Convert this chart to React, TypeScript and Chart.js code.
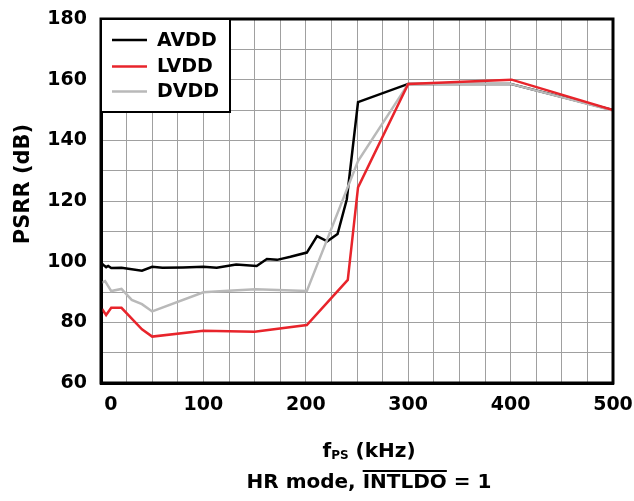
import React, { useEffect, useRef } from 'react';
import { Chart, registerables } from 'chart.js';

Chart.register(...registerables);

// ---- data ----
const avddKHz = [1, 3, 5, 7, 10, 20, 40, 50, 60, 80, 100, 113, 132, 152, 162, 172, 185, 201, 211, 221, 231, 240, 251, 300, 400, 500];
const avddDB = [99.3, 98.7, 98.2, 98.6, 97.9, 98.0, 97.0, 98.3, 98.0, 98.1, 98.3, 98.0, 99.1, 98.6, 100.9, 100.6, 101.6, 103.0, 108.4, 106.7, 109.1, 120.5, 152.6, 158.6, 158.6, 150.0];

const lvddKHz = [1, 5, 10, 20, 40, 50, 100, 150, 201, 241, 251, 300, 401, 500];
const lvddDB = [84.4, 82.4, 84.8, 84.8, 77.7, 75.3, 77.2, 76.9, 79.1, 94.0, 124.5, 158.6, 160.0, 150.0];

const dvddKHz = [1, 4, 10, 20, 30, 40, 50, 100, 120, 151, 201, 251, 300, 400, 500];
const dvddDB = [93.1, 93.6, 90.3, 91.0, 87.4, 86.0, 83.6, 89.9, 90.3, 90.9, 90.3, 133.2, 158.6, 158.6, 149.8];

const seriesNames = ['AVDD', 'LVDD', 'DVDD'];
const seriesColors = ['#000000', '#e8242b', '#b9b9b9'];

const xMin = 0;
const xMax = 500;
const xStep = 25;
const xLabelEvery = 100;
const yMin = 60;
const yMax = 180;
const yStep = 10;
const yLabelEvery = 20;

const FONT = '"DejaVu Sans", "Liberation Sans", Arial, sans-serif';

const toPoints = (xs: number[], ys: number[]) => xs.map((x, i) => ({ x, y: ys[i] }));

const decorPlugin = {
  id: 'decor',
  afterDatasetsDraw(chart: any) {
    const { ctx, chartArea: a } = chart;
    ctx.save();
    // plot frame
    ctx.strokeStyle = '#000';
    ctx.lineWidth = 3;
    ctx.strokeRect(a.left, a.top, a.right - a.left, a.bottom - a.top);

    // legend box inside plot
    const bx = a.left;
    const by = a.top;
    const bw = 129;
    const bh = 93;
    ctx.fillStyle = '#fff';
    ctx.fillRect(bx, by, bw, bh);
    ctx.lineWidth = 2;
    ctx.strokeStyle = '#000';
    ctx.strokeRect(bx, by, bw, bh);
    ctx.font = `bold 19px ${FONT}`;
    ctx.textBaseline = 'middle';
    ctx.textAlign = 'left';
    const rowY = [21, 47.5, 72.5];
    seriesNames.forEach((name, i) => {
      const y = by + rowY[i];
      ctx.strokeStyle = seriesColors[i];
      ctx.lineWidth = 2.5;
      ctx.beginPath();
      ctx.moveTo(bx + 11, y);
      ctx.lineTo(bx + 46, y);
      ctx.stroke();
      ctx.fillStyle = '#000';
      ctx.fillText(name, bx + 56, y + 1);
    });
    ctx.restore();
  },
  afterDraw(chart: any) {
    const { ctx, chartArea: a } = chart;
    ctx.save();
    ctx.fillStyle = '#000';
    ctx.strokeStyle = '#000';

    // y axis title
    ctx.save();
    ctx.translate(a.left - 77, (a.top + a.bottom) / 2 - 17);
    ctx.rotate(-Math.PI / 2);
    ctx.font = `bold 21px ${FONT}`;
    ctx.textAlign = 'center';
    ctx.textBaseline = 'middle';
    ctx.fillText('PSRR (dB)', 0, 0);
    ctx.restore();

    // x axis title line 1: f_PS (kHz)
    const cx = (a.left + a.right) / 2 + 12;
    const base1 = a.bottom + 74;
    ctx.textBaseline = 'alphabetic';
    ctx.textAlign = 'left';
    const bigFont = `bold 20px ${FONT}`;
    const subFont = `bold 12px ${FONT}`;
    ctx.font = bigFont;
    const wF = ctx.measureText('f').width;
    const wRest = ctx.measureText(' (kHz)').width;
    ctx.font = subFont;
    const wSub = ctx.measureText('PS').width;
    let x = cx - (wF + wSub + wRest) / 2;
    ctx.font = bigFont;
    ctx.fillText('f', x, base1);
    x += wF;
    ctx.font = subFont;
    ctx.fillText('PS', x, base1 + 2);
    x += wSub;
    ctx.font = bigFont;
    ctx.fillText(' (kHz)', x, base1);

    // line 2: HR mode, INTLDO(overlined) = 1
    const base2 = a.bottom + 105;
    const p1 = 'HR mode, ';
    const p2 = 'INTLDO';
    const p3 = ' = 1';
    ctx.font = bigFont;
    const w1 = ctx.measureText(p1).width;
    const w2 = ctx.measureText(p2).width;
    const w3 = ctx.measureText(p3).width;
    let x2 = cx - (w1 + w2 + w3) / 2;
    ctx.fillText(p1, x2, base2);
    x2 += w1;
    ctx.fillText(p2, x2, base2);
    ctx.lineWidth = 2;
    ctx.beginPath();
    ctx.moveTo(x2, base2 - 17);
    ctx.lineTo(x2 + w2, base2 - 17);
    ctx.stroke();
    x2 += w2;
    ctx.fillText(p3, x2, base2);
    ctx.restore();
  },
};

export default function App() {
  const canvasRef = useRef<HTMLCanvasElement | null>(null);

  useEffect(() => {
    const canvas = canvasRef.current;
    if (!canvas) return;
    const series = [
      { xs: avddKHz, ys: avddDB, order: 2 },
      { xs: lvddKHz, ys: lvddDB, order: 0 },
      { xs: dvddKHz, ys: dvddDB, order: 1 },
    ];
    const chart = new Chart(canvas, {
      type: 'line',
      data: {
        datasets: series.map((s, i) => ({
          label: seriesNames[i],
          data: toPoints(s.xs, s.ys),
          borderColor: seriesColors[i],
          backgroundColor: seriesColors[i],
          borderWidth: 2.5,
          pointRadius: 0,
          tension: 0,
          order: s.order,
        })),
      },
      options: {
        animation: false,
        responsive: false,
        events: [],
        layout: { padding: { left: 0, top: 19, right: 21, bottom: 0 } },
        plugins: {
          legend: { display: false },
          tooltip: { enabled: false },
          title: { display: false },
        },
        scales: {
          x: {
            type: 'linear',
            min: xMin,
            max: xMax,
            afterFit(scale: any) {
              scale.height = 118;
              scale.paddingLeft = 0;
              scale.paddingRight = 0;
            },
            ticks: {
              stepSize: xStep,
              autoSkip: false,
              maxRotation: 0,
              padding: 11,
              color: '#000',
              font: { family: FONT, size: 19, weight: 'bold' },
              callback: (v: any) => {
                const n = Number(v);
                if (n % xLabelEvery !== 0) return '';
                return n === 0 ? '   0' : String(n);
              },
            },
            grid: { color: '#a0a0a0', lineWidth: 1, drawTicks: false },
            border: { display: true, color: '#000', width: 3 },
          },
          y: {
            type: 'linear',
            min: yMin,
            max: yMax,
            afterFit(scale: any) {
              scale.width = 101;
              scale.paddingTop = 0;
              scale.paddingBottom = 0;
            },
            ticks: {
              stepSize: yStep,
              autoSkip: false,
              padding: 14,
              color: '#000',
              font: { family: FONT, size: 19, weight: 'bold' },
              callback: (v: any) => {
                const n = Number(v);
                return n % yLabelEvery === 0 ? String(n) : '';
              },
            },
            grid: { color: '#a0a0a0', lineWidth: 1, drawTicks: false },
            border: { display: true, color: '#000', width: 3 },
          },
        },
      },
      plugins: [decorPlugin],
    } as any);
    return () => chart.destroy();
  }, []);

  return (
    <div style={{ position: 'absolute', left: 0, top: 0, width: 634, height: 501, background: '#fff' }}>
      <canvas ref={canvasRef} width={634} height={501} />
    </div>
  );
}
